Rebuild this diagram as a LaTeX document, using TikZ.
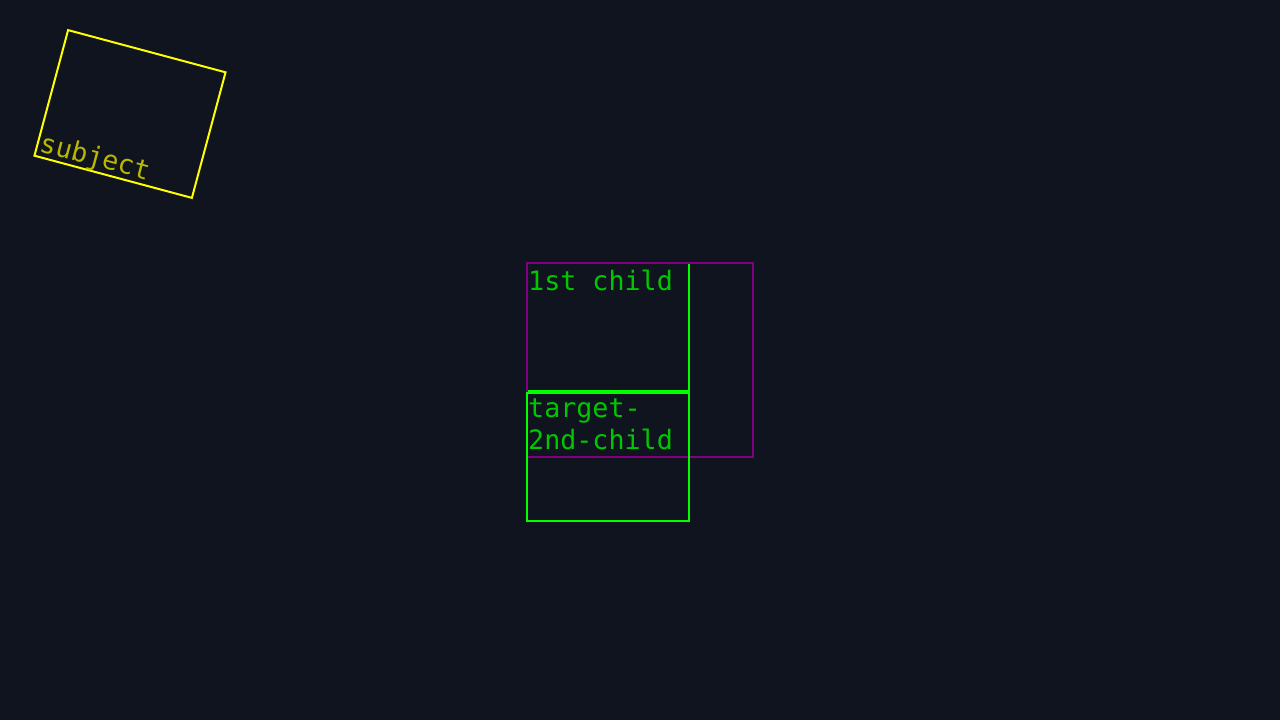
\documentclass[tikz,border=0pt]{standalone}
\usepackage{fontspec}
\setmonofont{DejaVu Sans Mono}
\usepackage{tikz}
\usetikzlibrary{positioning,calc}

\definecolor{bg}{HTML}{10141F}
\definecolor{boxgreen}{HTML}{00FF00}
\definecolor{textgreen}{HTML}{00C800}
\definecolor{boxpurple}{HTML}{800080}
\definecolor{boxyellow}{HTML}{FFFF00}
\definecolor{textyellow}{HTML}{B8B800}

\begin{document}
\begin{tikzpicture}[x=1pt,y=-1pt]
        \tikzstyle{every node}=[font=\ttfamily\fontsize{26.7}{32.7}\selectfont]
        \tikzstyle{childbox}=[draw=boxgreen,line width=2pt,minimum width=162pt,minimum height=128pt,inner sep=0pt]
        \tikzstyle{parentbox}=[draw=boxpurple,line width=2pt,minimum width=226pt,minimum height=194pt,inner sep=0pt]
        \tikzstyle{childtext}=[text=textgreen,inner sep=0pt,anchor=base west,align=left]
        \fill[bg] (0,0) rectangle (1280,720);

        %%% Subject
        \begin{scope}[shift={(130,114)},rotate=-15,transform shape]
            \node[draw=boxyellow,line width=2pt,minimum width=163pt,minimum height=130pt,inner sep=0pt] (subject) at (0,0) {};
            \node[text=textyellow,inner sep=0pt,anchor=base west] (subjectlabel) at (-79,59.5) {subject};
        \end{scope}

        %%% Children
        \node[childbox] (first) at (608,327) {};
        \node[parentbox] (parent) at (640,360) {};
        \node[childbox] (target) at (608,457) {};

        \node[childtext] (firstlabel) at ($(first.north west)+(2,28.5)$) {1st child};
        % base of a two-line node is its last line
        \node[childtext] (targetlabel) at ($(target.north west)+(2,57.7)$) {target-\\2nd-child};
    \end{tikzpicture}
\end{document}
